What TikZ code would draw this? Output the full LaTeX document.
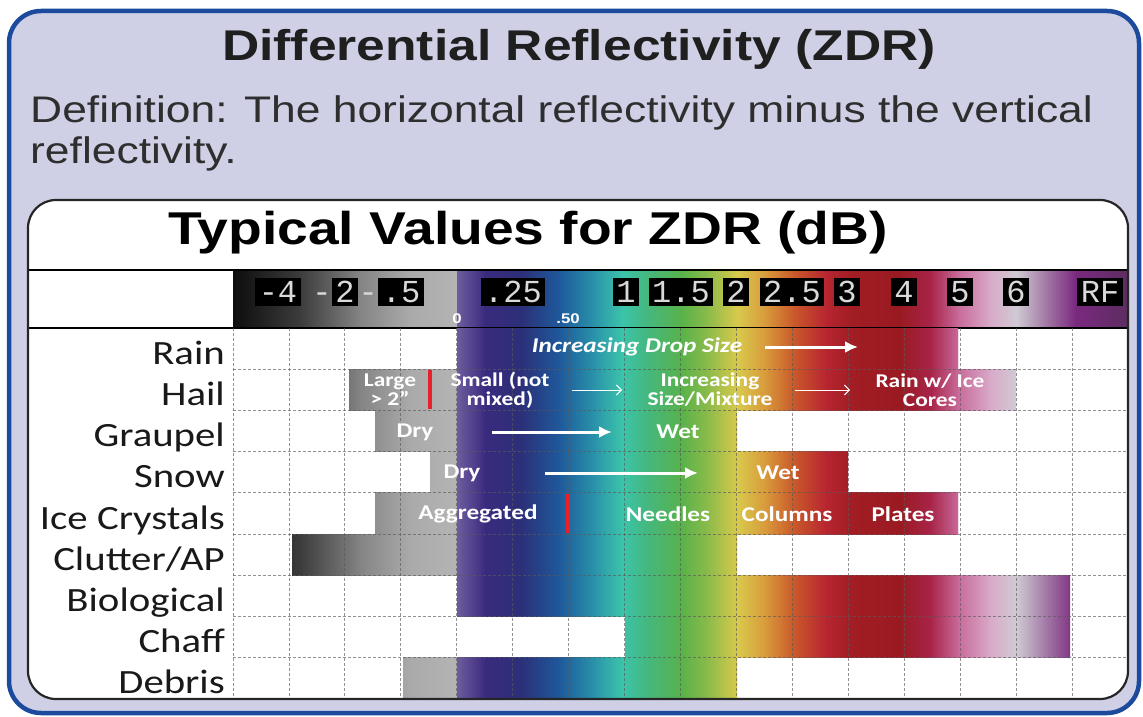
\documentclass[tikz,border=0pt]{standalone}
\usepackage{fontspec}
\setmainfont{Liberation Sans}[FakeStretch=1.2]
\newfontfamily\rowfont{Carlito}[FakeStretch=1.2]
\newfontfamily\lcdfont{Liberation Mono}
\usetikzlibrary{arrows.meta}

\definecolor{frameblue}{HTML}{1C4A9C}
\definecolor{lavender}{HTML}{CFD0E6}
\definecolor{markred}{HTML}{E8202A}
% colour scale of the ZDR bar
\definecolor{zc0}{HTML}{0D0D0D}
\definecolor{zc1}{HTML}{3C3C3C}
\definecolor{zc2}{HTML}{848484}
\definecolor{zc3}{HTML}{AAAAAA}
\definecolor{zc4}{HTML}{B4B4B4}
\definecolor{zc5}{HTML}{6E5C9E}
\definecolor{zc6}{HTML}{3A2A7E}
\definecolor{zc7}{HTML}{2C2F78}
\definecolor{zc8}{HTML}{1E5A9C}
\definecolor{zc9}{HTML}{2A95AA}
\definecolor{zc10}{HTML}{3CC4AA}
\definecolor{zc11}{HTML}{44B882}
\definecolor{zc12}{HTML}{58B24A}
\definecolor{zc13}{HTML}{8CBB4A}
\definecolor{zc14}{HTML}{D8CA4C}
\definecolor{zc15}{HTML}{D89A3C}
\definecolor{zc16}{HTML}{CA5A2A}
\definecolor{zc17}{HTML}{B82630}
\definecolor{zc18}{HTML}{A21D24}
\definecolor{zc19}{HTML}{9A1A22}
\definecolor{zc20}{HTML}{A82448}
\definecolor{zc21}{HTML}{C86A9A}
\definecolor{zc22}{HTML}{D8AAC8}
\definecolor{zc23}{HTML}{D0CAD4}
\definecolor{zc24}{HTML}{A47AA6}
\definecolor{zc25}{HTML}{7A2A80}
\definecolor{zc26}{HTML}{5C2C60}

% ZDR colours between y=#1 and y=#2
\newcommand\zdrgrad[2]{%
  \foreach \xa/\ca/\xb/\cb in {233/zc0/300/zc1, 300/zc1/360/zc2, 360/zc2/410/zc3,
      410/zc3/457/zc4, 457/zc5/485/zc6, 485/zc6/520/zc7, 520/zc7/560/zc8,
      560/zc8/595/zc9, 595/zc9/622/zc10, 622/zc10/645/zc11, 645/zc11/681/zc12,
      681/zc12/708/zc13, 708/zc13/737/zc14, 737/zc14/765/zc15, 765/zc15/793/zc16,
      793/zc16/825/zc17, 825/zc17/850/zc18, 850/zc18/900/zc19, 900/zc19/930/zc20,
      930/zc20/958/zc21, 958/zc21/990/zc22, 990/zc22/1016/zc23, 1016/zc23/1045/zc24,
      1045/zc24/1075/zc25, 1075/zc25/1128/zc26}
    {\shade[left color=\ca, right color=\cb] (\xa,#1) rectangle (\xb+0.6,#2);}}
% bar from x=#1 to x=#2, y=#3 to y=#4
\newcommand\zdrbar[4]{%
  \begin{scope}
    \clip (#1,#3) rectangle (#2,#4);
    \zdrgrad{#3}{#4}
  \end{scope}}
\newcommand\rowh{41.22}

\begin{document}
\begin{tikzpicture}[x=1pt, y=-1pt,
    rowlabel/.style={anchor=base east, inner sep=0pt, text=black!90,
      font=\rowfont\fontsize{34}{34}\selectfont},
    bartext/.style={text=white, inner sep=0pt,
      font=\rowfont\bfseries\fontsize{21}{21}\selectfont},
    hailtext/.style={bartext, align=center,
      font=\rowfont\bfseries\fontsize{19.5}{19}\selectfont},
    lcd/.style={fill=black, text=white!85!black, inner xsep=3.5pt, inner ysep=0pt,
      minimum height=28pt, text height=21pt, text depth=0pt,
      font=\lcdfont\fontsize{32}{32}\selectfont},
    lcdminus/.style={text=white!85!black, inner sep=0pt, text height=21pt, text depth=0pt,
      font=\lcdfont\fontsize{32}{32}\selectfont},
    tick/.style={text=white, inner sep=0pt, font=\bfseries\fontsize{14}{14}\selectfont},
    gridline/.style={black!65, dash pattern=on 3pt off 2pt, line width=0.8pt, opacity=0.65},
    bigarrow/.style={white, line width=3pt, -{Latex[length=13pt, width=12pt]}},
    thinarrow/.style={white, line width=1pt, -{Straight Barb[length=5pt, width=10pt]}},
    redmark/.style={markred, line width=3.5pt}
  ]
  \useasboundingbox (0,0) rectangle (1143,717);
  \fill[white] (0,0) rectangle (1143,717);

  % frame
  \filldraw[fill=lavender, draw=frameblue, line width=4.5pt, rounded corners=32pt]
    (9,11) rectangle (1139,713);
  \node[anchor=base, font=\bfseries\fontsize{43}{43}\selectfont, text=black!88]
    (title) at (579,60) {Differential Reflectivity (ZDR)};
  \node[anchor=base west, inner sep=0pt, font=\fontsize{37}{37}\selectfont, text=black!82]
    (def) at (30,122) {Definition: The horizontal reflectivity minus the vertical};
  \node[anchor=base west, inner sep=0pt, font=\fontsize{37}{37}\selectfont, text=black!82]
    (def2) at (30,163) {reflectivity.};

  % table
  \fill[white, rounded corners=28pt] (28,200) rectangle (1128,699);
  \node[anchor=base, font=\bfseries\fontsize{46}{46}\selectfont, text=black]
    (typical) at (528,244) {Typical Values for ZDR (dB)};
  \zdrbar{233}{1128}{270}{328}
  \draw[line width=1.8pt] (28,270) -- (1128,270);
  \draw[line width=1.8pt] (28,328) -- (1128,328);

  % scale labels
  \foreach \x/\t/\nm in {278/-4/sm4, 345/2/sm2, 401/.5/sm05, 513/.25/s025, 626/1/s1,
      681/1.5/s15, 736/2/s2, 792/2.5/s25, 847/3/s3, 904/4/s4, 960/5/s5, 1016/6/s6,
      1100/RF/srf}
    \node[lcd] (\nm) at (\x,292) {\t};
  \node[lcdminus, anchor=east] (sm2minus) at (sm2.west) {-};
  \node[lcdminus, anchor=east] (sm05minus) at (sm05.west) {-};
  \node[tick] (tick0) at (457,319) {0};
  \node[tick] (tick50) at (568,319) {.50};

  % bars
  \zdrbar{457}{958}{328}{369.2}
  \zdrbar{349}{1016}{369.2}{410.4}
  \zdrbar{375}{737}{410.4}{451.7}
  \zdrbar{430}{848}{451.7}{492.9}
  \zdrbar{375}{958}{492.9}{534.1}
  \zdrbar{292}{737}{534.1}{575.3}
  \zdrbar{457}{1070}{575.3}{616.6}
  \zdrbar{625}{1070}{616.6}{657.8}
  \zdrbar{403}{737}{657.8}{699}

  % grid
  \foreach \k in {0,...,15}
    \draw[gridline] ({233+\k*55.94},328) -- ({233+\k*55.94},699);
  \foreach \k in {1,...,8}
    \draw[gridline] (233,{328+\k*\rowh}) -- (1128,{328+\k*\rowh});

  % row names
  \foreach \name [count=\i] in {Rain, Hail, Graupel, Snow, Ice Crystals, Clutter/AP,
      Biological, Chaff, Debris}
    \node[rowlabel] (row\i) at (225,{328+\i*\rowh-5}) {\name};

  % rain
  \node[bartext, font=\rowfont\bfseries\itshape\fontsize{21}{21}\selectfont]
    (rainTxt) at (637,347) {Increasing Drop Size};
  \coordinate (rainTip) at (858,347);
  \draw[bigarrow, shorten <=128pt] (rainTxt.center) -- (rainTip);

  % hail
  \draw[redmark] (430,370) -- (430,409);
  \node[hailtext] (hailLarge) at (390,390) {Large\\> 2”};
  \node[hailtext] (hailSmall) at (500,390) {Small (not\\mixed)};
  \node[hailtext] (hailInc) at (710,390) {Increasing\\Size/Mixture};
  \node[hailtext] (hailIce) at (930,390) {Rain w/ Ice\\Cores};
  \draw[thinarrow, shorten <=72pt, shorten >=88pt] (hailSmall.center) -- (hailInc.center);
  \draw[thinarrow, shorten <=85pt, shorten >=80pt] (hailInc.center) -- (hailIce.center);

  % graupel
  \node[bartext] (grDry) at (415,432) {Dry};
  \node[bartext] (grWet) at (678,432) {Wet};
  \draw[bigarrow, shorten <=77pt, shorten >=66pt] (grDry.center) -- (grWet.center);

  % snow
  \node[bartext] (snDry) at (462,473) {Dry};
  \node[bartext] (snWet) at (778,473) {Wet};
  \draw[bigarrow, shorten <=83pt, shorten >=80pt] (snDry.center) -- (snWet.center);

  % ice crystals
  \draw[redmark] (568,494) -- (568,533);
  \node[bartext] (iceAgg) at (478,514) {Aggregated};
  \node[bartext] (iceNeedles) at (668,514) {Needles};
  \node[bartext] (iceColumns) at (787,514) {Columns};
  \node[bartext] (icePlates) at (903,514) {Plates};

  \draw[black!85, line width=2.2pt, rounded corners=28pt] (28,200) rectangle (1128,699);
\end{tikzpicture}
\end{document}
